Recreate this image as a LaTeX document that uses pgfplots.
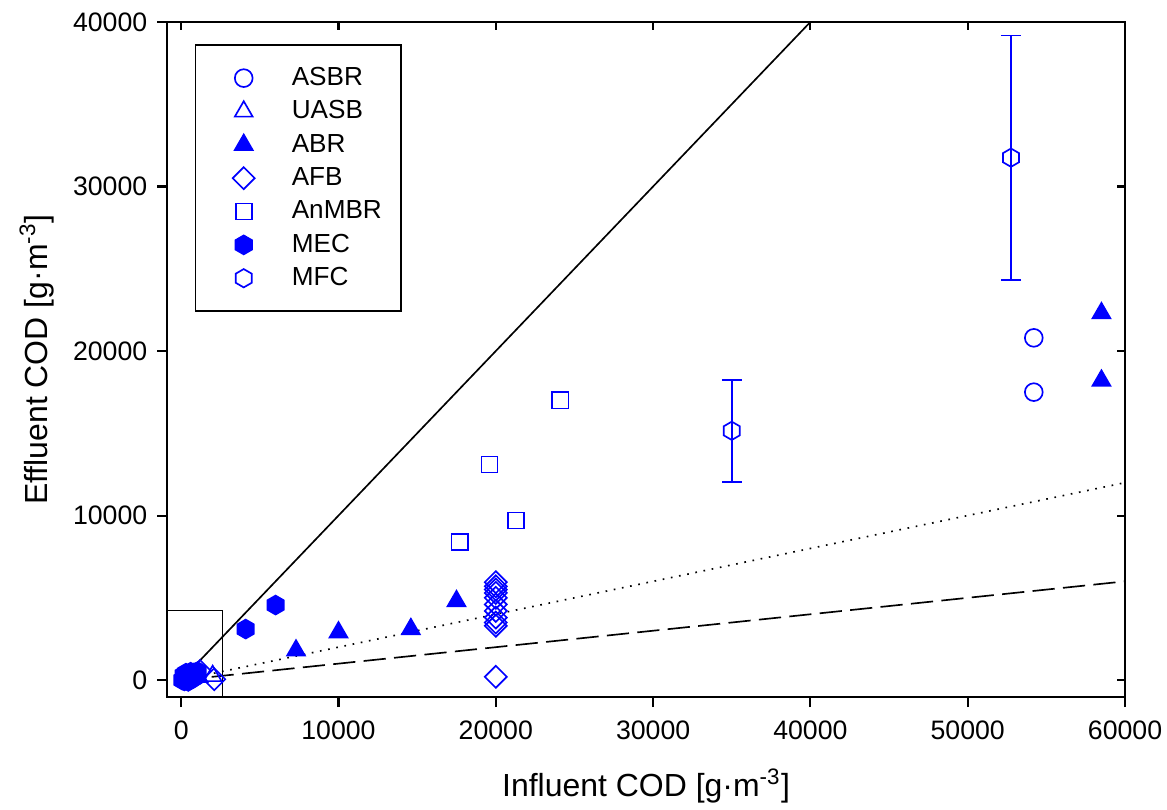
\documentclass[border=0pt]{standalone}
\usepackage{pgfplots}
\pgfplotsset{compat=1.18}
\usepackage{fontspec}
\setmainfont{Liberation Sans}

\definecolor{mkblue}{RGB}{0,0,255}

\pgfdeclareplotmark{hexagon}{%
  \pgfpathmoveto{\pgfpointpolar{90}{\pgfplotmarksize}}%
  \pgfpathlineto{\pgfpointpolar{150}{\pgfplotmarksize}}%
  \pgfpathlineto{\pgfpointpolar{210}{\pgfplotmarksize}}%
  \pgfpathlineto{\pgfpointpolar{270}{\pgfplotmarksize}}%
  \pgfpathlineto{\pgfpointpolar{330}{\pgfplotmarksize}}%
  \pgfpathlineto{\pgfpointpolar{30}{\pgfplotmarksize}}%
  \pgfpathclose
  \pgfusepathqstroke}
\pgfdeclareplotmark{hexagon*}{%
  \pgfpathmoveto{\pgfpointpolar{90}{\pgfplotmarksize}}%
  \pgfpathlineto{\pgfpointpolar{150}{\pgfplotmarksize}}%
  \pgfpathlineto{\pgfpointpolar{210}{\pgfplotmarksize}}%
  \pgfpathlineto{\pgfpointpolar{270}{\pgfplotmarksize}}%
  \pgfpathlineto{\pgfpointpolar{330}{\pgfplotmarksize}}%
  \pgfpathlineto{\pgfpointpolar{30}{\pgfplotmarksize}}%
  \pgfpathclose
  \pgfusepathqfillstroke}

\pgfplotsset{
  codbase/.style={
    scale only axis,
    width=344.7pt, height=242.9pt,
    xmin=-900, xmax=60000,
    ymin=-1030, ymax=40000,
    xtick={0,10000,...,60000},
    ytick={0,10000,...,40000},
    scaled ticks=false,
    /pgf/number format/1000 sep={},
    /pgf/number format/assume math mode=true,
    axis line style={line width=0.75pt},
    tick style={line width=0.75pt, black},
    ticklabel style={font=\fontsize{9.6}{11}\selectfont},
  }
}

\begin{document}
\begin{tikzpicture}
% mirrored inward ticks on top and right
\begin{axis}[codbase,
    tick align=inside, major tick length=3pt,
    xtick pos=right, ytick pos=right,
    xticklabels={}, yticklabels={}]
\end{axis}
\begin{axis}[codbase,
    tick align=outside, major tick length=3.6pt,
    xtick pos=left, ytick pos=left,
    xticklabel style={yshift=-1.5pt},
    clip=true,
    xlabel={Influent COD [g·m\textsuperscript{-3}]},
    ylabel={Effluent COD [g·m\textsuperscript{-3}]},
    label style={font=\fontsize{11.5}{14}\selectfont},
    xlabel style={at={(axis description cs:0.5,-0.148)}, anchor=base},
    ylabel style={at={(axis description cs:-0.125,0.5)}, anchor=base},
    legend style={draw=black, line width=0.6pt, at={(axis description cs:0.029,0.967)}, anchor=north west,
      font=\fontsize{9.4}{11}\selectfont, inner xsep=4pt, inner ysep=5.9pt,
      row sep=0pt, column sep=6pt,
      nodes={inner xsep=3pt, inner ysep=1.5pt, text height=7.1pt, text depth=1.9pt}},
    legend cell align=left,
    legend image code/.code={\path (0pt,0pt) (21pt,0pt); \draw[#1] plot coordinates {(13pt,0pt)};},
    every axis plot/.append style={line width=0.6pt},
  ]
% reference lines
\addplot[black, line width=0.6pt, forget plot] coordinates {(0,0) (40000,40000)};
\addplot[black, line width=0.6pt, dash pattern=on 0.6pt off 2.4pt, forget plot] coordinates {(0,0) (60000,12000)};
\addplot[black, line width=0.6pt, dash pattern=on 8pt off 3pt, forget plot] coordinates {(0,0) (60000,6000)};
% inset frame
\addplot[black, line width=0.4pt, forget plot] coordinates {(-900,4255) (2600,4255) (2600,-1030)};

% ASBR
\addplot[only marks, mkblue, mark=o, mark size=3.2pt] coordinates {
  (54200,20800) (54200,17500)};
\addlegendentry{ASBR}
% UASB
\addplot[only marks, mkblue, mark=triangle, mark size=3.7pt] coordinates {
  (2000,250) (800,350) (1100,200)};
\addlegendentry{UASB}
% ABR
\addplot[only marks, mkblue, mark=triangle*, mark size=3.7pt] coordinates {
  (7300,1800) (10000,2900) (14600,3100) (17500,4800) (58500,22300) (58500,18200)};
\addlegendentry{ABR}
% AFB
\addplot[only marks, mkblue, mark=square, mark size=2.8pt, mark options={rotate=45}] coordinates {
  (20000,200) (20000,3300) (20000,3500) (20000,3800) (20000,4200) (20000,4600)
  (20000,5000) (20000,5300) (20000,5500) (20000,5700) (20000,5950)
  (2100,50) (1200,550)};
\addlegendentry{AFB}
% AnMBR
\addplot[only marks, mkblue, mark=square, mark size=2.9pt] coordinates {
  (17700,8400) (19600,13100) (21300,9700) (24100,17000)};
\addlegendentry{AnMBR}
% MEC
\addplot[only marks, mkblue, fill=mkblue, mark=hexagon*, mark size=3.4pt] coordinates {
  (4100,3100) (6000,4560)
  (70,0) (150,300) (200,-50) (300,150) (300,420) (400,100) (450,-80) (500,250)
  (600,200) (600,480) (700,350) (750,100) (800,300) (900,450) (1000,250) (1050,520)};
\addlegendentry{MEC}
% MFC
\addplot[only marks, mkblue, mark=hexagon, mark size=3.3pt,
  error bars/.cd, y dir=both, y explicit,
  error bar style={line width=0.6pt, mkblue},
  error mark options={mkblue, line width=0.6pt, mark size=3.6pt, rotate=90}]
  coordinates {
  (35000,15150) +- (0,3100)
  (52750,31750) +- (0,7430)};
\addlegendentry{MFC}
\coordinate (bl) at (rel axis cs:0,0);
\coordinate (tr) at (rel axis cs:1,1);
\end{axis}
\pgfresetboundingbox
\path ([xshift=-60.1pt,yshift=-40.3pt]bl) rectangle ([xshift=15.1pt,yshift=7.9pt]tr);
\end{tikzpicture}
\end{document}
